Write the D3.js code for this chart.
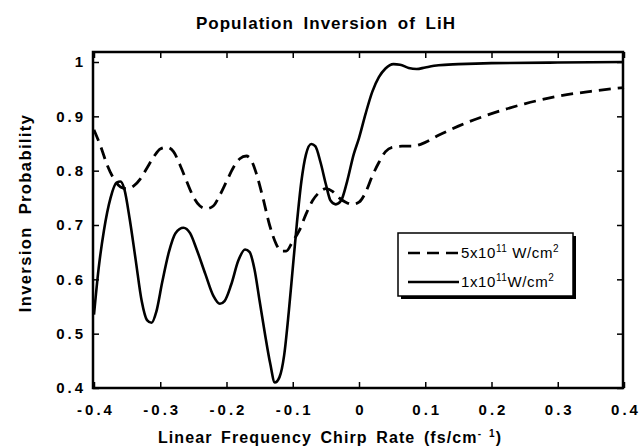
<!DOCTYPE html>
<html>
<head>
<meta charset="utf-8">
<script src="https://cdn.jsdelivr.net/npm/d3@7/dist/d3.min.js"></script>
<style>
  html, body { margin: 0; padding: 0; background: #fff; }
  svg { display: block; font-family: 'Liberation Sans', Arial, Helvetica, sans-serif; }
</style>
</head>
<body>
<div id="chart"></div>
<script>
// chirp rate (fs/cm^-1) and inversion probability
const strongX = [-0.4, -0.39, -0.38, -0.37, -0.36, -0.35, -0.34, -0.33, -0.32, -0.31, -0.3, -0.29,
  -0.28, -0.27, -0.26, -0.25, -0.24, -0.23, -0.22, -0.21, -0.2, -0.19, -0.18, -0.17, -0.163,
  -0.155, -0.145, -0.135, -0.125, -0.117, -0.11, -0.1, -0.09, -0.08, -0.07, -0.06, -0.05, -0.04,
  -0.03, -0.02, -0.01, 0, 0.01, 0.02, 0.03, 0.04, 0.05, 0.065, 0.08, 0.1, 0.12, 0.15, 0.2, 0.25,
  0.3, 0.35, 0.4];
const strongY = [0.875, 0.845, 0.81, 0.785, 0.77, 0.767, 0.772, 0.785, 0.805, 0.825, 0.84, 0.843,
  0.835, 0.81, 0.78, 0.752, 0.735, 0.73, 0.735, 0.755, 0.78, 0.805, 0.822, 0.827, 0.82,
  0.795, 0.75, 0.7, 0.665, 0.652, 0.652, 0.67, 0.69, 0.72, 0.745, 0.76, 0.767, 0.762,
  0.75, 0.742, 0.738, 0.742, 0.76, 0.79, 0.815, 0.835, 0.843, 0.845, 0.845, 0.852, 0.865, 0.882,
  0.905, 0.923, 0.937, 0.946, 0.953];

const weakX = [-0.4, -0.393, -0.385, -0.375, -0.366, -0.36, -0.354, -0.346, -0.337, -0.328, -0.32,
  -0.313, -0.306, -0.297, -0.287, -0.277, -0.265, -0.255, -0.245, -0.232, -0.22, -0.21, -0.203,
  -0.193, -0.182, -0.172, -0.165, -0.158, -0.15, -0.142, -0.134, -0.127, -0.12, -0.113, -0.106,
  -0.1, -0.094, -0.087, -0.08, -0.072, -0.066, -0.058, -0.05, -0.043, -0.035, -0.027, -0.018,
  -0.008, 0, 0.01, 0.02, 0.03, 0.04, 0.052, 0.062, 0.075, 0.087, 0.1, 0.12, 0.15, 0.2, 0.3, 0.4];
const weakY = [0.535, 0.62, 0.69, 0.75, 0.778, 0.78, 0.765, 0.71, 0.635, 0.56, 0.525,
  0.52, 0.54, 0.595, 0.65, 0.685, 0.695, 0.685, 0.655, 0.61, 0.57, 0.555, 0.56,
  0.59, 0.635, 0.655, 0.65, 0.62, 0.56, 0.5, 0.445, 0.41, 0.42, 0.46, 0.54,
  0.62, 0.7, 0.78, 0.83, 0.849, 0.845, 0.815, 0.775, 0.745, 0.738, 0.745, 0.78,
  0.83, 0.86, 0.905, 0.945, 0.972, 0.988, 0.996, 0.995, 0.989, 0.987, 0.99, 0.994, 0.996, 0.998, 0.999, 1.0];

const xTicks = [-0.4, -0.3, -0.2, -0.1, 0, 0.1, 0.2, 0.3, 0.4];
const xTickLabels = ['-0.4', '-0.3', '-0.2', '-0.1', '0', '0.1', '0.2', '0.3', '0.4'];
const yTicks = [0.4, 0.5, 0.6, 0.7, 0.8, 0.9, 1];
const yTickLabels = ['0.4', '0.5', '0.6', '0.7', '0.8', '0.9', '1'];

const width = 642;
const height = 448;
const frame = { left: 93, right: 623, top: 52, bottom: 388 };

const svg = d3.select('#chart')
  .append('svg')
  .attr('width', width)
  .attr('height', height)
  .attr('viewBox', [0, 0, width, height]);

const x = d3.scaleLinear().domain([-0.4, 0.4]).range([frame.left + 1, frame.right + 1]);
const y = d3.scaleLinear().domain([0.4, 1]).range([frame.bottom, 62]);

function styleAxis(g) {
  g.select('.domain').remove();
  g.selectAll('line').attr('stroke', '#000').attr('stroke-width', 1.5);
  g.selectAll('text')
    .attr('fill', '#000')
    .style('font-size', '15px')
    .style('font-weight', 'bold')
    .style('letter-spacing', '3px');
}

// axes with inward ticks on all four sides
svg.append('g')
  .attr('transform', `translate(0,${frame.bottom})`)
  .call(d3.axisBottom(x).tickValues(xTicks).tickSize(-6).tickPadding(16)
    .tickFormat((d, i) => xTickLabels[i]))
  .call((g) => g.selectAll('text').attr('dx', '1.5px'))
  .call(styleAxis);

svg.append('g')
  .attr('transform', `translate(0,${frame.top})`)
  .call(d3.axisTop(x).tickValues(xTicks).tickSize(-6).tickFormat(''))
  .call(styleAxis);

svg.append('g')
  .attr('transform', `translate(${frame.left},0)`)
  .call(d3.axisLeft(y).tickValues(yTicks).tickSize(-6).tickPadding(7)
    .tickFormat((d, i) => yTickLabels[i]))
  .call(styleAxis);

svg.append('g')
  .attr('transform', `translate(${frame.right},0)`)
  .call(d3.axisRight(y).tickValues(yTicks).tickSize(-6).tickFormat(''))
  .call(styleAxis);

svg.append('rect')
  .attr('x', frame.left)
  .attr('y', frame.top)
  .attr('width', frame.right - frame.left)
  .attr('height', frame.bottom - frame.top)
  .attr('fill', 'none')
  .attr('stroke', '#000')
  .attr('stroke-width', 2.5);

// curves
const line = d3.line()
  .x((d) => x(d[0]))
  .y((d) => y(d[1]))
  .curve(d3.curveMonotoneX);

const plot = svg.append('g');

plot.append('path')
  .datum(strongX.map((v, i) => [v, strongY[i]]))
  .attr('d', line)
  .attr('fill', 'none')
  .attr('stroke', '#000')
  .attr('stroke-width', 2.8)
  .attr('stroke-dasharray', '12,7');

plot.append('path')
  .datum(weakX.map((v, i) => [v, weakY[i]]))
  .attr('d', line)
  .attr('fill', 'none')
  .attr('stroke', '#000')
  .attr('stroke-width', 2.6)
  .attr('stroke-linejoin', 'round');

// titles
svg.append('text')
  .attr('x', 326)
  .attr('y', 29)
  .attr('text-anchor', 'middle')
  .style('font-size', '17px')
  .style('font-weight', 'bold')
  .style('letter-spacing', '1px')
  .style('word-spacing', '4px')
  .text('Population Inversion of LiH');

const xTitle = svg.append('text')
  .attr('x', 330)
  .attr('y', 443)
  .attr('text-anchor', 'middle')
  .style('font-size', '16px')
  .style('font-weight', 'bold')
  .style('letter-spacing', '1.1px')
  .style('word-spacing', '3px');
xTitle.append('tspan').text('Linear Frequency Chirp Rate (fs/cm');
xTitle.append('tspan').attr('dy', -6).style('font-size', '10px').text('- 1');
xTitle.append('tspan').attr('dy', 6).text(')');

svg.append('text')
  .attr('transform', 'translate(31,213) rotate(-90)')
  .attr('text-anchor', 'middle')
  .style('font-size', '16.5px')
  .style('font-weight', 'bold')
  .style('letter-spacing', '1.4px')
  .style('word-spacing', '6px')
  .text('Inversion Probability');

// legend
const legend = svg.append('g').attr('transform', 'translate(398,233)');
legend.append('rect')
  .attr('x', 3).attr('y', 3)
  .attr('width', 175).attr('height', 63)
  .attr('fill', '#000');
legend.append('rect')
  .attr('width', 175).attr('height', 63)
  .attr('fill', '#fff')
  .attr('stroke', '#000')
  .attr('stroke-width', 1.5);

const legendItems = [
  { base: '5x10', exp: '11', unit: ' W/cm', dash: '12,7' },
  { base: '1x10', exp: '11', unit: 'W/cm', dash: null },
];

legendItems.forEach((item, i) => {
  const cy = 20 + i * 29;
  legend.append('line')
    .attr('x1', 10).attr('x2', 61)
    .attr('y1', cy).attr('y2', cy)
    .attr('stroke', '#000')
    .attr('stroke-width', 2.6)
    .attr('stroke-dasharray', item.dash);
  const t = legend.append('text')
    .attr('x', 63)
    .attr('y', cy + 5)
    .style('font-size', '15px')
    .style('letter-spacing', '0.6px');
  t.append('tspan').text(item.base);
  t.append('tspan').attr('dy', -6).style('font-size', '10px').text(item.exp);
  t.append('tspan').attr('dy', 6).text(item.unit);
  t.append('tspan').attr('dy', -6).style('font-size', '10px').text('2');
});
</script>
</body>
</html>
